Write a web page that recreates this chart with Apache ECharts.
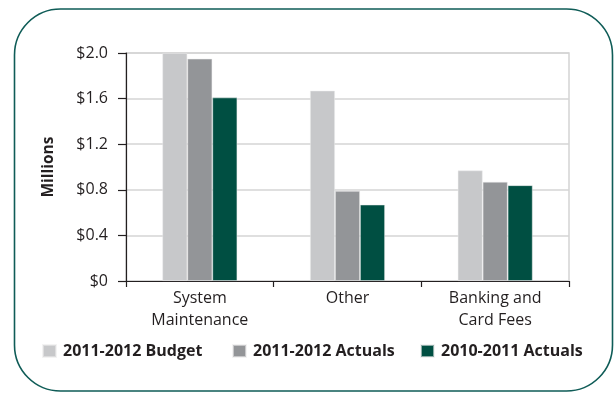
<!DOCTYPE html>
<html>
<head>
<meta charset="utf-8">
<script src="https://cdn.jsdelivr.net/npm/echarts@6/dist/echarts.min.js"></script>
<style>
  html, body { margin: 0; padding: 0; background: #ffffff; }
  #chart { width: 615px; height: 393px; }
</style>
</head>
<body>
<div id="chart"></div>
<script>
// Expense categories and amounts (in millions of dollars)
const categories = ['System\nMaintenance', 'Other', 'Banking and\nCard Fees'];
const seriesNames = ['2011-2012 Budget', '2011-2012 Actuals', '2010-2011 Actuals'];
const budget2012 = [2.0, 1.67, 0.97];
const actuals2012 = [1.95, 0.79, 0.87];
const actuals2011 = [1.61, 0.67, 0.84];
const yTicks = [0, 0.4, 0.8, 1.2, 1.6, 2.0];

const colors = ['#c7c8ca', '#939598', '#004f42'];
const textColor = '#231f20';
const fontFamily = '"Open Sans", sans-serif';

const chart = echarts.init(document.getElementById('chart'), null, { renderer: 'canvas' });

function legendAt(name, left) {
  return {
    data: [name],
    left: left,
    top: 343,
    padding: 0,
    itemWidth: 13,
    itemHeight: 12,
    icon: 'rect',
    itemGap: 0,
    textStyle: { fontFamily: fontFamily, fontSize: 16, fontWeight: 'bold', color: textColor, padding: [0, 0, 0, 2] },
    selectedMode: false
  };
}

const seriesData = [budget2012, actuals2012, actuals2011];

chart.setOption({
  animation: false,
  backgroundColor: '#ffffff',
  textStyle: { fontFamily: fontFamily },
  grid: {
    left: 126, right: 46, top: 53, bottom: 112,
    show: true, borderColor: '#d4d4d4', borderWidth: 1.5
  },
  legend: [
    legendAt(seriesNames[0], 42),
    legendAt(seriesNames[1], 232),
    legendAt(seriesNames[2], 420)
  ],
  xAxis: {
    type: 'category',
    data: categories,
    axisLine: { lineStyle: { color: '#231f20', width: 1.2 } },
    axisTick: { show: true, length: 6, lineStyle: { color: '#231f20', width: 1.2 } },
    axisLabel: {
      color: textColor, fontSize: 16, fontFamily: fontFamily,
      lineHeight: 22, margin: 6
    }
  },
  yAxis: {
    type: 'value',
    min: 0, max: 2.0, interval: 0.4,
    axisLine: { show: true, lineStyle: { color: '#231f20', width: 1.2 } },
    axisTick: { show: true, length: 8, lineStyle: { color: '#231f20', width: 1.2 } },
    splitLine: { lineStyle: { color: '#d4d4d4', width: 1.5 } },
    axisLabel: {
      color: textColor, fontSize: 16, fontFamily: fontFamily, margin: 18,
      formatter: function (v) {
        const t = yTicks.find(x => Math.abs(x - v) < 1e-9);
        if (t === 0) return '$0';
        return '$' + t.toFixed(1);
      }
    },
    name: 'Millions',
    nameLocation: 'middle',
    nameGap: 69,
    nameTextStyle: { color: textColor, fontSize: 15.5, fontWeight: 'bold', fontFamily: fontFamily }
  },
  series: seriesData.map((d, i) => ({
    type: 'bar',
    name: seriesNames[i],
    data: d,
    barWidth: 25,
    barGap: '0%',
    itemStyle: { color: colors[i], borderColor: 'rgba(235,235,235,0.6)', borderWidth: 0.8 }
  })),
  graphic: [{
    type: 'rect',
    silent: true,
    z: -1,
    shape: { x: 14.5, y: 9, width: 598, height: 382, r: 46 },
    style: { fill: 'none', stroke: '#0f5c57', lineWidth: 1.6 }
  }]
});
</script>
</body>
</html>
